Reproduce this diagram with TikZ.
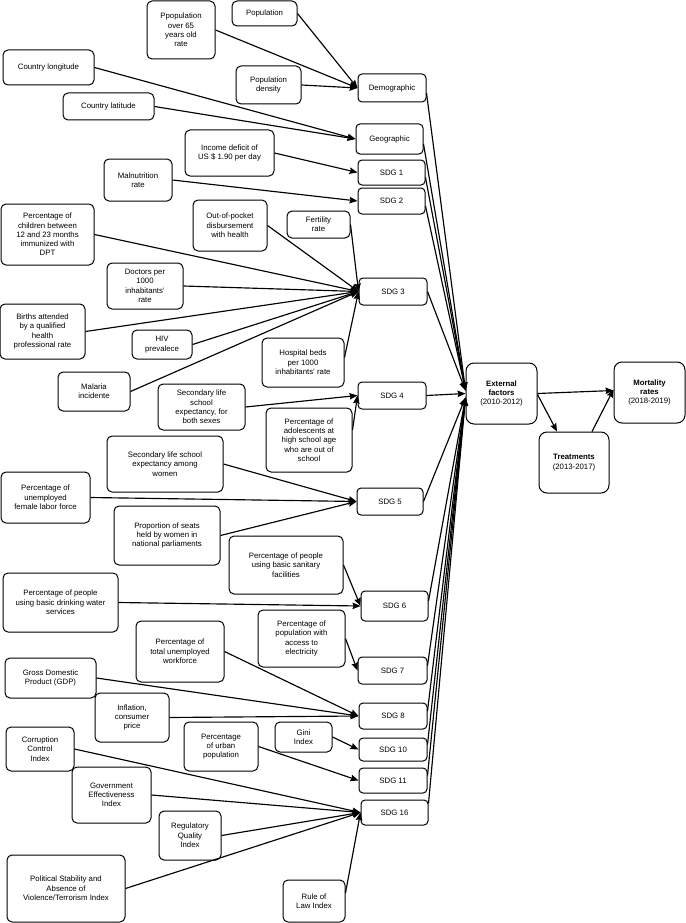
\documentclass[tikz,border=0pt]{standalone}
\usepackage{fontspec}
\setmainfont{Liberation Sans}
\usetikzlibrary{arrows.meta}
\tikzset{
 box/.style={draw, line width=1pt, rounded corners=5pt, align=center, inner sep=1pt, font=\fontsize{7.8}{9.3}\selectfont},
 sdg/.style={rounded corners=4pt},
 big/.style={rounded corners=8pt},
 arr/.style={draw, line width=1.15pt, -{Stealth[length=8pt,width=6.5pt,inset=1pt]}},
}
\newcommand{\BX}[7][]{\node[box,#1,minimum width={(#5-#3)*1pt},minimum height={(#6-#4)*1pt}] (#2) at ({(#3+#5)/2},{(#4+#6)/2}) {#7};}
\begin{document}
\begin{tikzpicture}[x=1pt,y=-1pt]
\useasboundingbox (0,0) rectangle (685,923);
% demographic / geographic
\BX{ppop}{147}{1}{215}{59}{Ppopulation\\over 65\\years old\\rate}
\BX{pop}{232}{1}{297}{26}{Population}
\BX{lon}{3}{50}{94}{85}{Country longitude}
\BX{dens}{236}{66}{301}{104}{Population\\density}
\BX[sdg]{dem}{358}{74}{426}{102}{Demographic}
\BX{lat}{63}{93}{154}{120}{Country latitude}
\BX[sdg]{geo}{356}{124}{423}{154}{Geographic}
% SDG 1, 2
\BX{inc}{185}{130}{274}{176}{Income deficit of\\US \$ 1.90 per day}
\BX[sdg]{s1}{358}{160}{425}{185}{SDG 1}
\BX[sdg]{s2}{358}{188}{425}{214}{SDG 2}
\BX{maln}{104}{159}{172}{201}{Malnutrition\\rate}
% SDG 3
\BX{oop}{193}{200}{267}{251}{Out-of-pocket\\disbursement\\with health}
\BX{fert}{287}{211}{350}{238}{Fertility\\rate}
\BX{child}{1}{204}{94}{265}{Percentage of\\children between\\12 and 23 months\\immunized with\\DPT}
\BX{doc}{107}{263}{183}{309}{Doctors per\\1000\\inhabitants'\\rate}
\BX[sdg]{s3}{359}{278}{427}{305}{SDG 3}
\BX{birth}{0}{304}{85}{359}{Births attended\\by a qualified\\health\\professional rate}
\BX{hiv}{132}{330}{192}{359}{HIV\\prevalece}
\BX{hosp}{262}{338}{344}{387}{Hospital beds\\per 1000\\inhabitants' rate}
\BX{mal}{58}{372}{130}{411}{Malaria\\incidente}
% SDG 4
\BX{secb}{158}{384}{245}{430}{Secondary life\\school\\expectancy, for\\both sexes}
\BX[sdg]{s4}{358}{382}{426}{409}{SDG 4}
\BX{ado}{266}{408}{352}{472}{Percentage of\\adolescents at\\high school age\\who are out of\\school}
% SDG 5
\BX{secw}{107}{436}{223}{492}{Secondary life school\\expectancy among\\women}
\BX{unf}{1}{472}{90}{523}{Percentage of\\unemployed\\female labor force}
\BX[sdg]{s5}{357}{488}{423}{515}{SDG 5}
\BX{seat}{114}{506}{220}{565}{Proportion of seats\\held by women in\\national parliaments}
% SDG 6, 7
\BX{sanit}{229}{536}{343}{594}{Percentage of people\\using basic sanitary\\facilities}
\BX{water}{3}{573}{118}{632}{Percentage of people\\using basic drinking water\\services}
\BX[sdg]{s6}{361}{591}{428}{621}{SDG 6}
\BX{unw}{136}{621}{224}{682}{Percentage of\\total unemployed\\workforce}
\BX{elec}{258}{610}{345}{667}{Percentage of\\population with\\access to\\electricity}
\BX[sdg]{s7}{358}{657}{427}{684}{SDG 7}
% SDG 8
\BX{gdp}{5}{658}{96}{698}{Gross Domestic\\Product (GDP)}
\BX{infl}{95}{693}{169}{742}{Inflation,\\consumer\\price}
\BX[sdg]{s8}{359}{703}{427}{729}{SDG 8}
% SDG 10, 11, 16
\BX{urb}{184}{722}{258}{771}{Percentage\\of urban\\population}
\BX{gini}{275}{722}{332}{752}{Gini\\Index}
\BX{corr}{6}{727}{74}{771}{Corruption\\Control\\Index}
\BX[sdg]{s10}{359}{738}{427}{761}{SDG 10}
\BX[sdg]{s11}{359}{768}{427}{793}{SDG 11}
\BX{gov}{72}{767}{151}{823}{Government\\Effectiveness\\Index}
\BX[sdg]{s16}{361}{800}{428}{825}{SDG 16}
\BX{reg}{159}{811}{221}{860}{Regulatory\\Quality\\Index}
\BX{pol}{7}{855}{125}{922}{Political Stability and\\Absence of\\Violence/Terrorism Index}
\BX{rule}{283}{880}{345}{922}{Rule of\\Law Index}
% right part
\BX[big]{ext}{466}{363}{537}{424}{\textbf{External}\\\textbf{factors}\\(2010-2012)}
\BX[big]{mort}{614}{362}{685}{423}{\textbf{Mortality}\\\textbf{rates}\\(2018-2019)}
\BX[big]{treat}{539}{432}{609}{493}{\textbf{Treatments}\\(2013-2017)}

% inputs
\draw[arr] (ppop.east) -- (dem.west);
\draw[arr] (pop.east) -- (dem.west);
\draw[arr] (dens.east) -- (dem.west);
\draw[arr] (lon.east) -- (geo.west);
\draw[arr] (lat.east) -- (geo.west);
\draw[arr] (inc.east) -- (s1.west);
\draw[arr] (maln.east) -- (s2.west);
\draw[arr] (oop.east) -- (s3.west);
\draw[arr] (fert.east) -- (s3.west);
\draw[arr] (child.east) -- (s3.west);
\draw[arr] (doc.east) -- (s3.west);
\draw[arr] (birth.east) -- (s3.west);
\draw[arr] (hiv.east) -- (s3.west);
\draw[arr] (mal.east) -- (s3.west);
\draw[arr] ([yshift=5pt]hosp.east) -- (s3.west);
\draw[arr] (secb.east) -- (s4.west);
\draw[arr] ([yshift=10pt]ado.east) -- (s4.west);
\draw[arr] (secw.east) -- (s5.west);
\draw[arr] (unf.east) -- (s5.west);
\draw[arr] (seat.east) -- (s5.west);
\draw[arr] (sanit.east) -- (s6.west);
\draw[arr] (water.east) -- (s6.west);
\draw[arr] (elec.east) -- (s7.west);
\draw[arr] (unw.east) -- (s8.west);
\draw[arr] (gdp.east) -- (s8.west);
\draw[arr] (infl.east) -- (s8.west);
\draw[arr] (gini.east) -- (s10.west);
\draw[arr] (urb.east) -- (s11.west);
\draw[arr] (corr.east) -- (s16.west);
\draw[arr] (gov.east) -- (s16.west);
\draw[arr] (reg.east) -- (s16.west);
\draw[arr] (pol.east) -- (s16.west);
\draw[arr] ([yshift=8pt]rule.east) -- (s16.west);

% to external factors
\foreach \s in {dem,geo,s1,s2}
  \draw[arr] ([yshift=-5pt]\s.east) -- ([yshift=3pt]ext.west);
\draw[arr] (s3.east) -- ([yshift=3pt]ext.west);
\draw[arr] (s4.east) -- (ext.west);
\draw[arr] (s5.east) -- ([yshift=-4pt]ext.west);
\foreach \s in {s6,s7,s8,s10,s11}
  \draw[arr] ([yshift=5pt]\s.east) -- ([yshift=-4pt]ext.west);
\draw[arr] ([yshift=-4pt]s16.north east) -- ([yshift=-4pt]ext.west);

% outputs
\draw[arr] (ext.east) -- ([yshift=2pt]mort.west);
\draw[arr] ([yshift=-1pt]ext.east) -- ([xshift=-17pt]treat.north);
\draw[arr] ([xshift=18pt]treat.north) -- ([yshift=3pt]mort.west);
\end{tikzpicture}
\end{document}
